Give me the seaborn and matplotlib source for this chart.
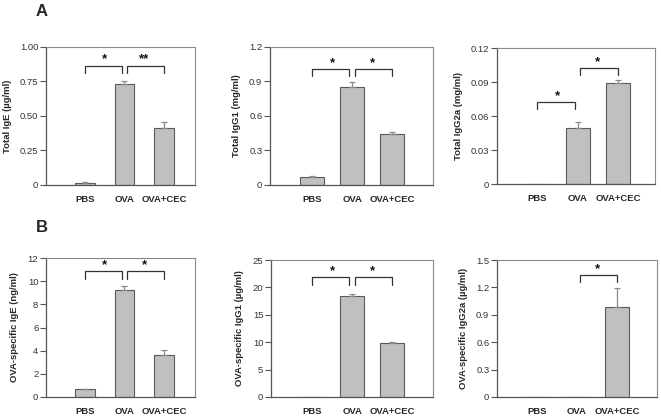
import matplotlib
matplotlib.use("Agg")
import matplotlib.pyplot as plt
import seaborn as sns
import numpy as np

# ---------------- data ----------------
groups = ["PBS", "OVA", "OVA+CEC"]

total_ige = [0.015, 0.735, 0.415]
total_ige_err = [0.008, 0.02, 0.04]

total_igg1 = [0.07, 0.855, 0.445]
total_igg1_err = [0.005, 0.04, 0.02]

total_igg2a = [0.0, 0.049, 0.089]
total_igg2a_err = [0.0, 0.006, 0.003]

ova_ige = [0.65, 9.25, 3.6]
ova_ige_err = [0.08, 0.35, 0.5]

ova_igg1 = [0.0, 18.5, 9.9]
ova_igg1_err = [0.0, 0.3, 0.12]

ova_igg2a = [0.0, 0.0, 0.98]
ova_igg2a_err = [0.0, 0.0, 0.21]

# brackets: (from index, to index, top y, end y, label)
br_total_ige = [(0, 1, 0.865, 0.815, "*"), (1, 2, 0.865, 0.815, "**")]
br_total_igg1 = [(0, 1, 1.01, 0.95, "*"), (1, 2, 1.01, 0.95, "*")]
br_total_igg2a = [(0, 1, 0.0725, 0.066, "*"), (1, 2, 0.102, 0.096, "*")]
br_ova_ige = [(0, 1, 10.9, 10.2, "*"), (1, 2, 10.9, 10.2, "*")]
br_ova_igg1 = [(0, 1, 21.9, 20.4, "*"), (1, 2, 21.9, 20.4, "*")]
br_ova_igg2a = [(1, 2, 1.335, 1.26, "*")]

ylab_total_ige = "Total IgE (µg/ml)"
ylab_total_igg1 = "Total IgG1 (mg/ml)"
ylab_total_igg2a = "Total IgG2a (mg/ml)"
ylab_ova_ige = "OVA-specific IgE (ng/ml)"
ylab_ova_igg1 = "OVA-specific IgG1 (µg/ml)"
ylab_ova_igg2a = "OVA-specific IgG2a (µg/ml)"

ticks_total_ige = [0, 0.25, 0.5, 0.75, 1.0]
ticklab_total_ige = ["0", "0.25", "0.50", "0.75", "1.00"]
ticks_total_igg1 = [0, 0.3, 0.6, 0.9, 1.2]
ticklab_total_igg1 = ["0", "0.3", "0.6", "0.9", "1.2"]
ticks_total_igg2a = [0, 0.03, 0.06, 0.09, 0.12]
ticklab_total_igg2a = ["0", "0.03", "0.06", "0.09", "0.12"]
ticks_ova_ige = [0, 2, 4, 6, 8, 10, 12]
ticklab_ova_ige = ["0", "2", "4", "6", "8", "10", "12"]
ticks_ova_igg1 = [0, 5, 10, 15, 20, 25]
ticklab_ova_igg1 = ["0", "5", "10", "15", "20", "25"]
ticks_ova_igg2a = [0, 0.3, 0.6, 0.9, 1.2, 1.5]
ticklab_ova_igg2a = ["0", "0.3", "0.6", "0.9", "1.2", "1.5"]

# ---------------- style ----------------
sns.set_theme(style="white")
plt.rcParams["font.family"] = ["Liberation Sans", "DejaVu Sans"]

W, H = 661, 418
fig = plt.figure(figsize=(W / 100, H / 100), dpi=100)


def rect(l, r, t, b):
    return [l / W, 1 - b / H, (r - l) / W, (b - t) / H]


panels = [
    dict(v=total_ige, e=total_ige_err, br=br_total_ige, yl=ylab_total_ige,
         tk=ticks_total_ige, tl=ticklab_total_ige, rc=rect(46, 195, 47, 185),
         xl=(-0.98, 2.78), bw=0.5),
    dict(v=total_igg1, e=total_igg1_err, br=br_total_igg1, yl=ylab_total_igg1,
         tk=ticks_total_igg1, tl=ticklab_total_igg1, rc=rect(270, 433, 47, 185),
         xl=(-1.05, 3.02), bw=0.6),
    dict(v=total_igg2a, e=total_igg2a_err, br=br_total_igg2a, yl=ylab_total_igg2a,
         tk=ticks_total_igg2a, tl=ticklab_total_igg2a, rc=rect(497, 655, 48, 184),
         xl=(-1.0, 2.92), bw=0.6),
    dict(v=ova_ige, e=ova_ige_err, br=br_ova_ige, yl=ylab_ova_ige,
         tk=ticks_ova_ige, tl=ticklab_ova_ige, rc=rect(46, 195, 258, 397),
         xl=(-0.98, 2.78), bw=0.5),
    dict(v=ova_igg1, e=ova_igg1_err, br=br_ova_igg1, yl=ylab_ova_igg1,
         tk=ticks_ova_igg1, tl=ticklab_ova_igg1, rc=rect(271, 433, 260, 397),
         xl=(-1.03, 3.02), bw=0.6),
    dict(v=ova_igg2a, e=ova_igg2a_err, br=br_ova_igg2a, yl=ylab_ova_igg2a,
         tk=ticks_ova_igg2a, tl=ticklab_ova_igg2a, rc=rect(497, 657, 260, 397),
         xl=(-1.0, 3.0), bw=0.6),
]

MID = 1      # shared bracket end (OVA) gets a small gap
GAP = 0.07

for p in panels:
    ax = fig.add_axes(p["rc"])
    sns.barplot(x=groups, y=p["v"], ax=ax, color="#c0c0c0", saturation=1,
                width=p["bw"], edgecolor="#5a5a5a", linewidth=0.8, errorbar=None)
    xs = np.arange(len(groups))
    vals = np.array(p["v"])
    errs = np.array(p["e"])
    m = errs > 0
    ax.errorbar(xs[m], vals[m], yerr=[np.zeros(m.sum()), errs[m]], fmt="none",
                ecolor="#8a8a8a", elinewidth=0.9, capsize=2.5, capthick=0.9)
    for (i, j, yt, ye, lab) in p["br"]:
        x0 = i + GAP if i == MID else i
        x1 = j - GAP if j == MID else j
        ax.plot([x0, x0, x1, x1], [ye, yt, yt, ye], color="#333333", lw=0.9,
                solid_joinstyle="miter")
        ax.text((i + j) / 2, yt, lab, ha="center", va="bottom", fontsize=9.5,
                fontweight="bold", color="#111111")
    ax.set_xlim(*p["xl"])
    ax.set_ylim(p["tk"][0], p["tk"][-1])
    ax.set_yticks(p["tk"])
    ax.set_yticklabels(p["tl"])
    ax.set_xlabel("")
    ax.set_ylabel(p["yl"], fontsize=6.8, fontweight="bold", labelpad=6)
    ax.tick_params(axis="y", left=True, length=4, width=0.8, color="#555555",
                   labelsize=6.8, labelcolor="#333333", pad=1.5, direction="out")
    ax.tick_params(axis="x", bottom=False, labelsize=6.8, pad=1.5)
    for lab in ax.get_xticklabels():
        lab.set_fontweight("bold")
    for s in ["left", "bottom"]:
        ax.spines[s].set_color("#555555")
        ax.spines[s].set_linewidth(0.9)
    for s in ["top", "right"]:
        ax.spines[s].set_color("#8a8a8a")
        ax.spines[s].set_linewidth(0.8)

fig.text(42 / W, 1 - 12 / H, "A", ha="center", va="center", fontsize=12,
         fontweight="bold")
fig.text(42 / W, 1 - 228 / H, "B", ha="center", va="center", fontsize=12,
         fontweight="bold")

fig.savefig("out.png", dpi=100)
